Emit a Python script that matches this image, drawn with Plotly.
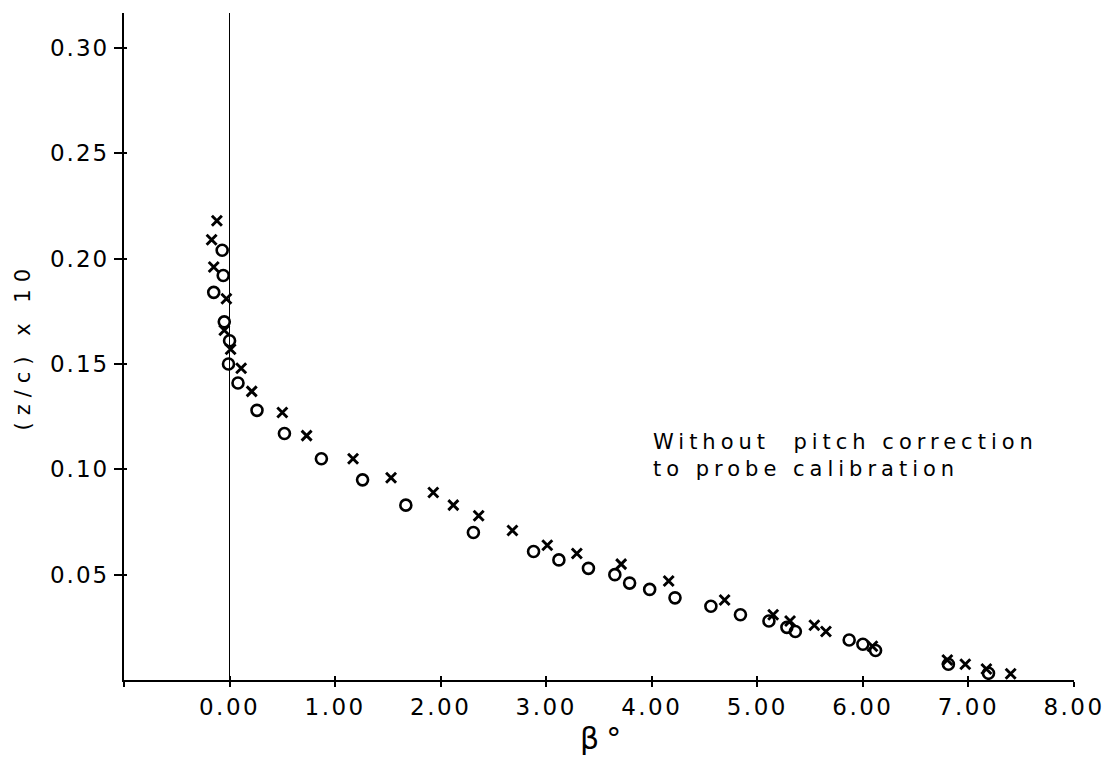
import plotly.graph_objects as go

# Data
cross_x = [-0.12, -0.17, -0.15, -0.03, -0.05, 0.01, 0.11, 0.21, 0.50, 0.73, 1.17, 1.53, 1.93, 2.12, 2.36,
           2.68, 3.01, 3.29, 3.71, 4.16, 4.69, 5.15, 5.31, 5.54, 5.65, 6.09, 6.80, 6.97, 7.17, 7.40]
cross_y = [0.218, 0.209, 0.196, 0.181, 0.166, 0.157, 0.148, 0.137, 0.127, 0.116, 0.105, 0.096, 0.089, 0.083, 0.078,
           0.071, 0.064, 0.060, 0.055, 0.047, 0.038, 0.031, 0.028, 0.026, 0.023, 0.016, 0.0095, 0.0075, 0.0052, 0.003]

circle_x = [-0.07, -0.06, -0.15, -0.05, 0.00, -0.01, 0.08, 0.26, 0.52, 0.87, 1.26, 1.67, 2.31, 2.88, 3.12,
            3.40, 3.65, 3.79, 3.98, 4.22, 4.56, 4.84, 5.11, 5.28, 5.36, 5.87, 6.00, 6.12, 6.81, 7.19]
circle_y = [0.204, 0.192, 0.184, 0.170, 0.161, 0.150, 0.141, 0.128, 0.117, 0.105, 0.095, 0.083, 0.070, 0.061, 0.057,
            0.053, 0.050, 0.046, 0.043, 0.039, 0.035, 0.031, 0.028, 0.025, 0.023, 0.019, 0.017, 0.014, 0.0075, 0.0032]

x_tickvals = [-1, 0, 1, 2, 3, 4, 5, 6, 7, 8]
x_ticktext = ["", "0.00", "1.00", "2.00", "3.00", "4.00", "5.00", "6.00", "7.00", "8.00"]
y_tickvals = [0.05, 0.10, 0.15, 0.20, 0.25, 0.30]
y_ticktext = ["0.05", "0.10", "0.15", "0.20", "0.25", "0.30"]

note_lines = ["Without  pitch correction", "to probe calibration"]
x_title = "β°"
y_title = "(z/c) x 10"

FONT = "DejaVu Sans"


def spaced(s, ls):
    return f'<span style="letter-spacing:{ls}px">{s}</span>' if s else s


fig = go.Figure()
fig.add_trace(go.Scatter(
    x=cross_x, y=cross_y, mode="markers", name="x",
    marker=dict(symbol="x-thin-open", size=10, color="black", line=dict(width=2.9, color="black")),
))
fig.add_trace(go.Scatter(
    x=circle_x, y=circle_y, mode="markers", name="o",
    marker=dict(symbol="circle-open", size=11, color="black", line=dict(width=2.6, color="black")),
))
# empty trace for the overlay axes (inside tick marks)
fig.add_trace(go.Scatter(x=[], y=[], xaxis="x2", yaxis="y2", showlegend=False))

xr = [-1, 8]
yr = [0, 0.3166]

fig.update_layout(
    width=1110, height=760,
    margin=dict(l=124, r=36, t=13, b=80, autoexpand=False),
    paper_bgcolor="white", plot_bgcolor="white",
    showlegend=False,
    font=dict(family=FONT, color="black", size=22),
    xaxis=dict(
        range=xr, showgrid=False, zeroline=True, zerolinecolor="black", zerolinewidth=1.3,
        showline=True, linecolor="black", linewidth=2.4, automargin=False,
        tickmode="array", tickvals=x_tickvals, ticktext=[spaced(t, 2.5) for t in x_ticktext],
        ticks="outside", ticklen=5, tickwidth=2, tickcolor="black",
        tickfont=dict(family=FONT, size=23),
    ),
    yaxis=dict(
        range=yr, showgrid=False, zeroline=False,
        showline=True, linecolor="black", linewidth=2.4, automargin=False,
        tickmode="array", tickvals=y_tickvals, ticktext=[spaced(t, 2) for t in y_ticktext],
        ticks="outside", ticklen=8, tickwidth=2, tickcolor="black",
        tickfont=dict(family=FONT, size=23),
    ),
    xaxis2=dict(
        range=xr, overlaying="x", anchor="y2", showgrid=False, zeroline=False, automargin=False,
        tickmode="array", tickvals=x_tickvals, showticklabels=False,
        ticks="inside", ticklen=4, tickwidth=2, tickcolor="black",
    ),
    yaxis2=dict(
        range=yr, overlaying="y", anchor="x2", showgrid=False, zeroline=False, automargin=False,
        tickmode="array", tickvals=y_tickvals, showticklabels=False,
        ticks="inside", ticklen=3, tickwidth=2, tickcolor="black",
    ),
    annotations=[
        dict(xref="paper", yref="paper", x=0.555, y=0.378, xanchor="left", yanchor="top",
             text=spaced(note_lines[0], 5) + "<br>" + spaced(note_lines[1], 5),
             showarrow=False, align="left", font=dict(family=FONT, size=21)),
        dict(xref="paper", yref="paper", x=0.5, y=0, xshift=5, yshift=-58, xanchor="center", yanchor="middle",
             text=spaced(x_title, 7), showarrow=False, font=dict(family=FONT, size=30)),
        dict(xref="paper", yref="paper", x=0, xshift=-102, y=0.5, xanchor="center", yanchor="middle",
             text=spaced(y_title, 7), textangle=-90, showarrow=False,
             font=dict(family=FONT, size=21)),
    ],
)

fig.write_html("out.html")
